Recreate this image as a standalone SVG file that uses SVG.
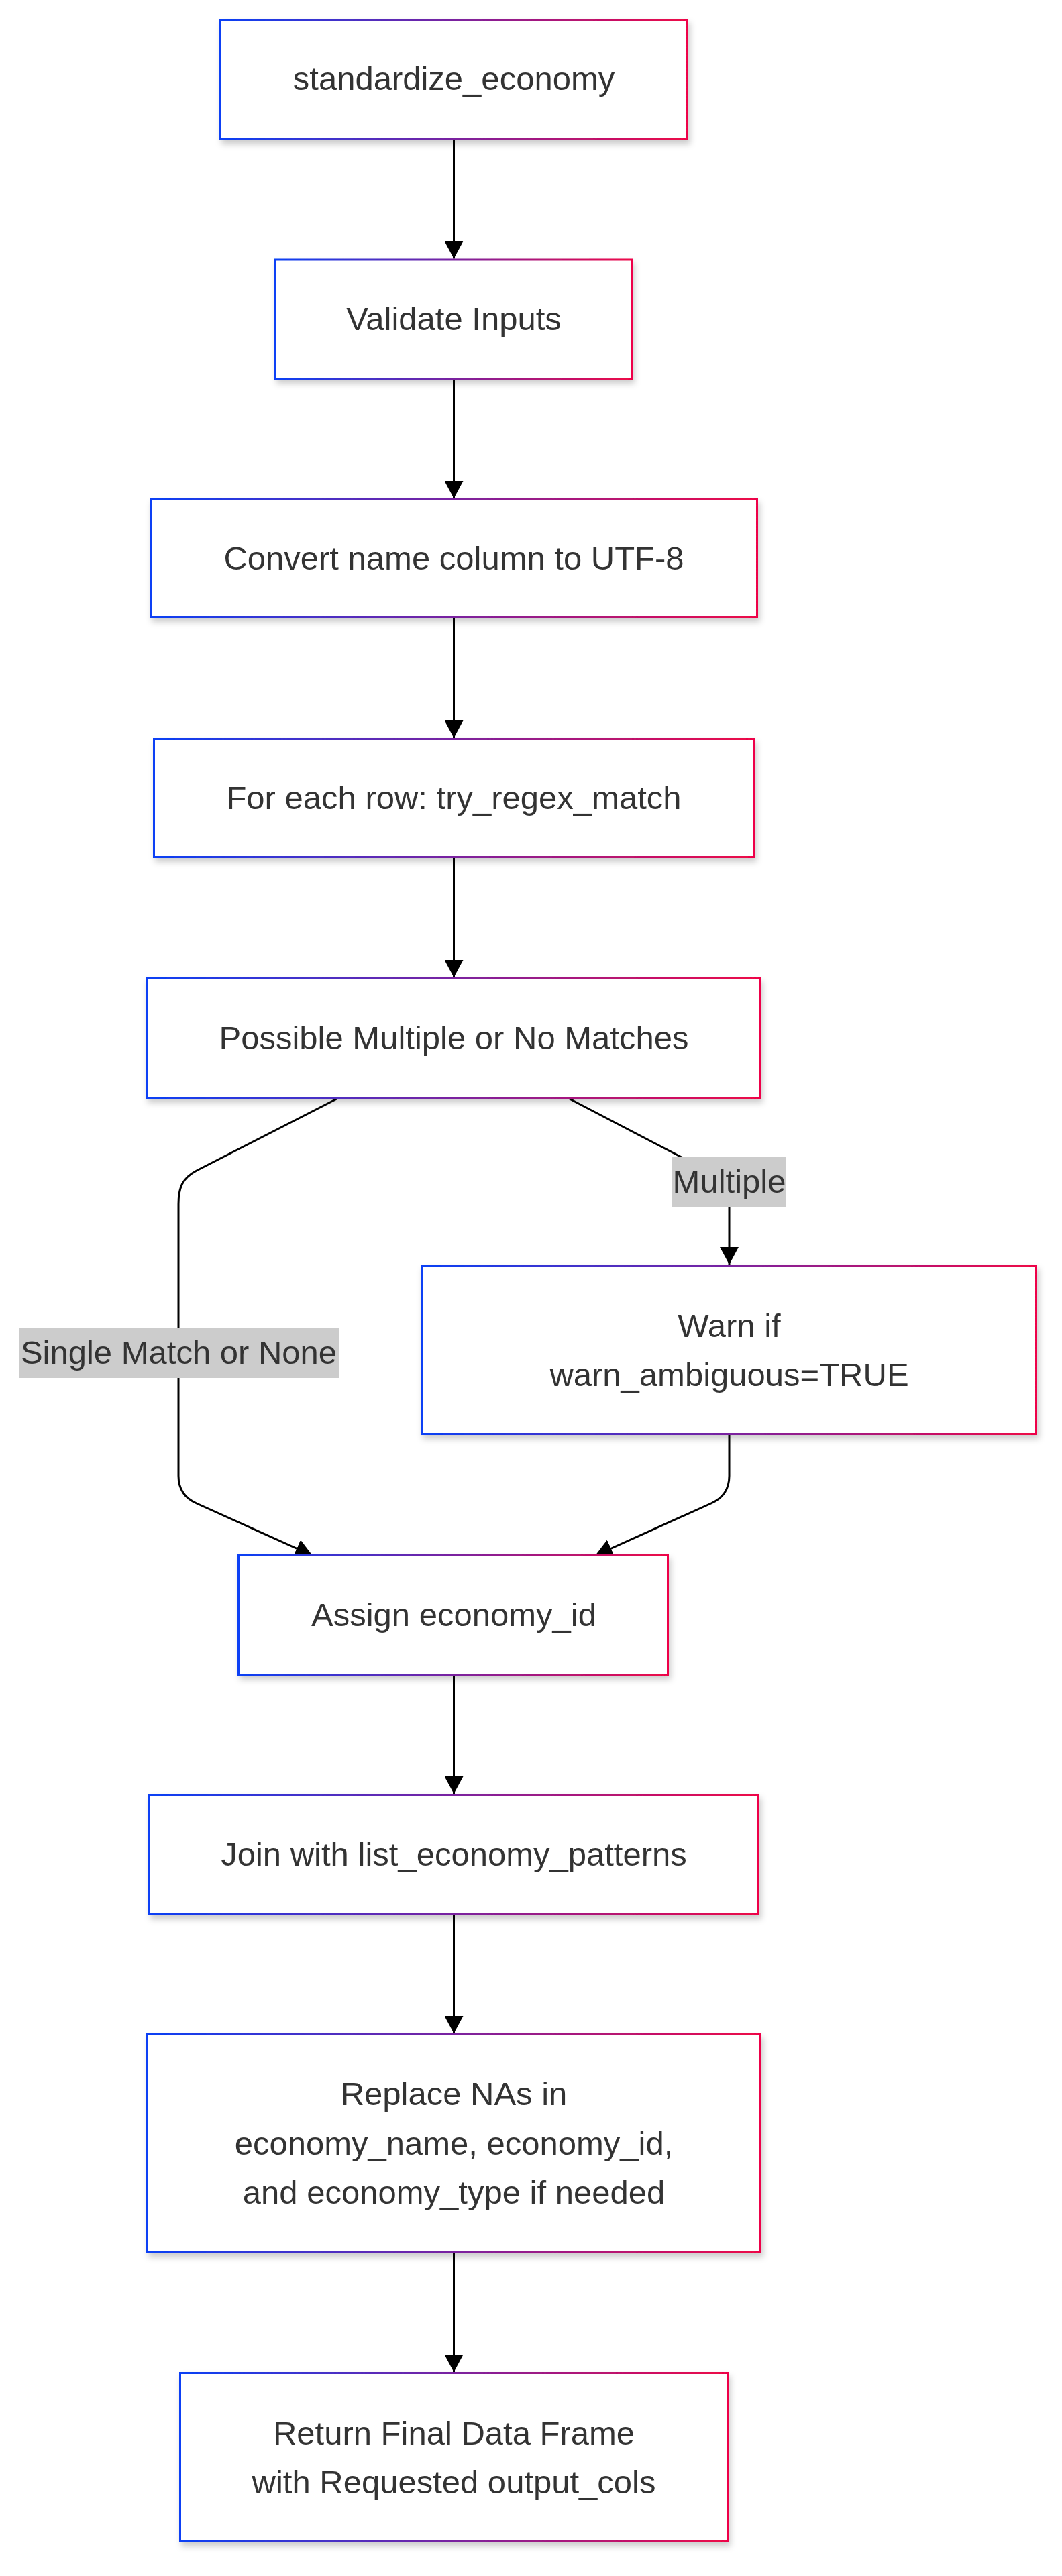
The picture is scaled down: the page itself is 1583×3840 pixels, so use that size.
<svg xmlns="http://www.w3.org/2000/svg" width="1583" height="3840" viewBox="0 0 1583 3840">
<defs>
<linearGradient id="bord" x1="0" y1="0" x2="1" y2="0">
<stop offset="0" stop-color="#0a40f5"/>
<stop offset="0.5" stop-color="#7a23a0"/>
<stop offset="1" stop-color="#ee0648"/>
</linearGradient>
<filter id="shadow" x="-10%" y="-20%" width="120%" height="150%">
<feDropShadow dx="3" dy="6" stdDeviation="5" flood-color="#000" flood-opacity="0.2"/>
</filter>
<marker id="arrow" viewBox="0 0 26 28" refX="26" refY="14" markerWidth="26" markerHeight="28" markerUnits="userSpaceOnUse" orient="auto">
<path d="M0,0 L26,14 L0,28 z" fill="#000"/>
</marker>
</defs>
<style>
.node rect{fill:#fff;stroke:url(#bord);stroke-width:3;filter:url(#shadow);}
.node text,.elabel text{font-family:"Liberation Sans",Arial,sans-serif;font-size:49px;fill:#333;text-anchor:middle;}
.edge{fill:none;stroke:#000;stroke-width:3;marker-end:url(#arrow);}
.elabel rect{fill:#cccccc;}
</style>
<rect width="1583" height="3840" fill="#fff"/>
<g id="connectors">
<path class="edge" d="M676.5,209 L676.5,385.5"/>
<path class="edge" d="M676.5,566 L676.5,743"/>
<path class="edge" d="M676.5,921 L676.5,1100"/>
<path class="edge" d="M676.5,1279 L676.5,1457"/>
<path class="edge" d="M502,1638 L293,1745 C272,1756 266,1770 266,1795 L266,2200 C266,2220 275,2233 293,2241 L466,2319"/>
<path class="edge" d="M849,1638 L1060,1748 C1080,1758 1087,1770 1087,1795 L1087,1885"/>
<path class="edge" d="M1087,2139 L1087,2200 C1087,2220 1078,2233 1060,2241 L887,2319"/>
<path class="edge" d="M676.5,2498 L676.5,2674"/>
<path class="edge" d="M676.5,2855 L676.5,3031"/>
<path class="edge" d="M676.5,3359 L676.5,3536"/>
<g class="elabel" id="label-multiple">
<rect x="1002" y="1725" width="170" height="74"/>
<text x="1087" y="1778">Multiple</text>
</g>
<g class="elabel" id="label-single">
<rect x="28" y="1980" width="477" height="74"/>
<text x="266.5" y="2033">Single Match or None</text>
</g>
</g>
<g class="node" id="n-standardize">
<rect x="328.5" y="29.5" width="696" height="178"/>
<text x="676.5" y="134">standardize_economy</text>
</g>
<g class="node" id="n-validate">
<rect x="410.5" y="387" width="531" height="177.5"/>
<text x="676.5" y="492">Validate Inputs</text>
</g>
<g class="node" id="n-convert">
<rect x="224.5" y="744.5" width="904" height="175"/>
<text x="676.5" y="849">Convert name column to UTF-8</text>
</g>
<g class="node" id="n-foreach">
<rect x="229.5" y="1101.5" width="894" height="176"/>
<text x="676.5" y="1206">For each row: try_regex_match</text>
</g>
<g class="node" id="n-possible">
<rect x="218.5" y="1458.5" width="914" height="178"/>
<text x="676.5" y="1564">Possible Multiple or No Matches</text>
</g>
<g class="node" id="n-warn">
<rect x="628.5" y="1886.5" width="916" height="251"/>
<text x="1087" y="1993">Warn if</text>
<text x="1087" y="2066">warn_ambiguous=TRUE</text>
</g>
<g class="node" id="n-assign">
<rect x="355.5" y="2318.5" width="640" height="178"/>
<text x="676.5" y="2424">Assign economy_id</text>
</g>
<g class="node" id="n-join">
<rect x="222.5" y="2675.5" width="908" height="178"/>
<text x="676.5" y="2781">Join with list_economy_patterns</text>
</g>
<g class="node" id="n-replace">
<rect x="219.5" y="3032.5" width="914" height="325"/>
<text x="676.5" y="3138">Replace NAs in</text>
<text x="676.5" y="3212">economy_name, economy_id,</text>
<text x="676.5" y="3285">and economy_type if needed</text>
</g>
<g class="node" id="n-return">
<rect x="268.5" y="3537.5" width="816" height="251"/>
<text x="676.5" y="3644">Return Final Data Frame</text>
<text x="676.5" y="3717">with Requested output_cols</text>
</g>
</svg>
